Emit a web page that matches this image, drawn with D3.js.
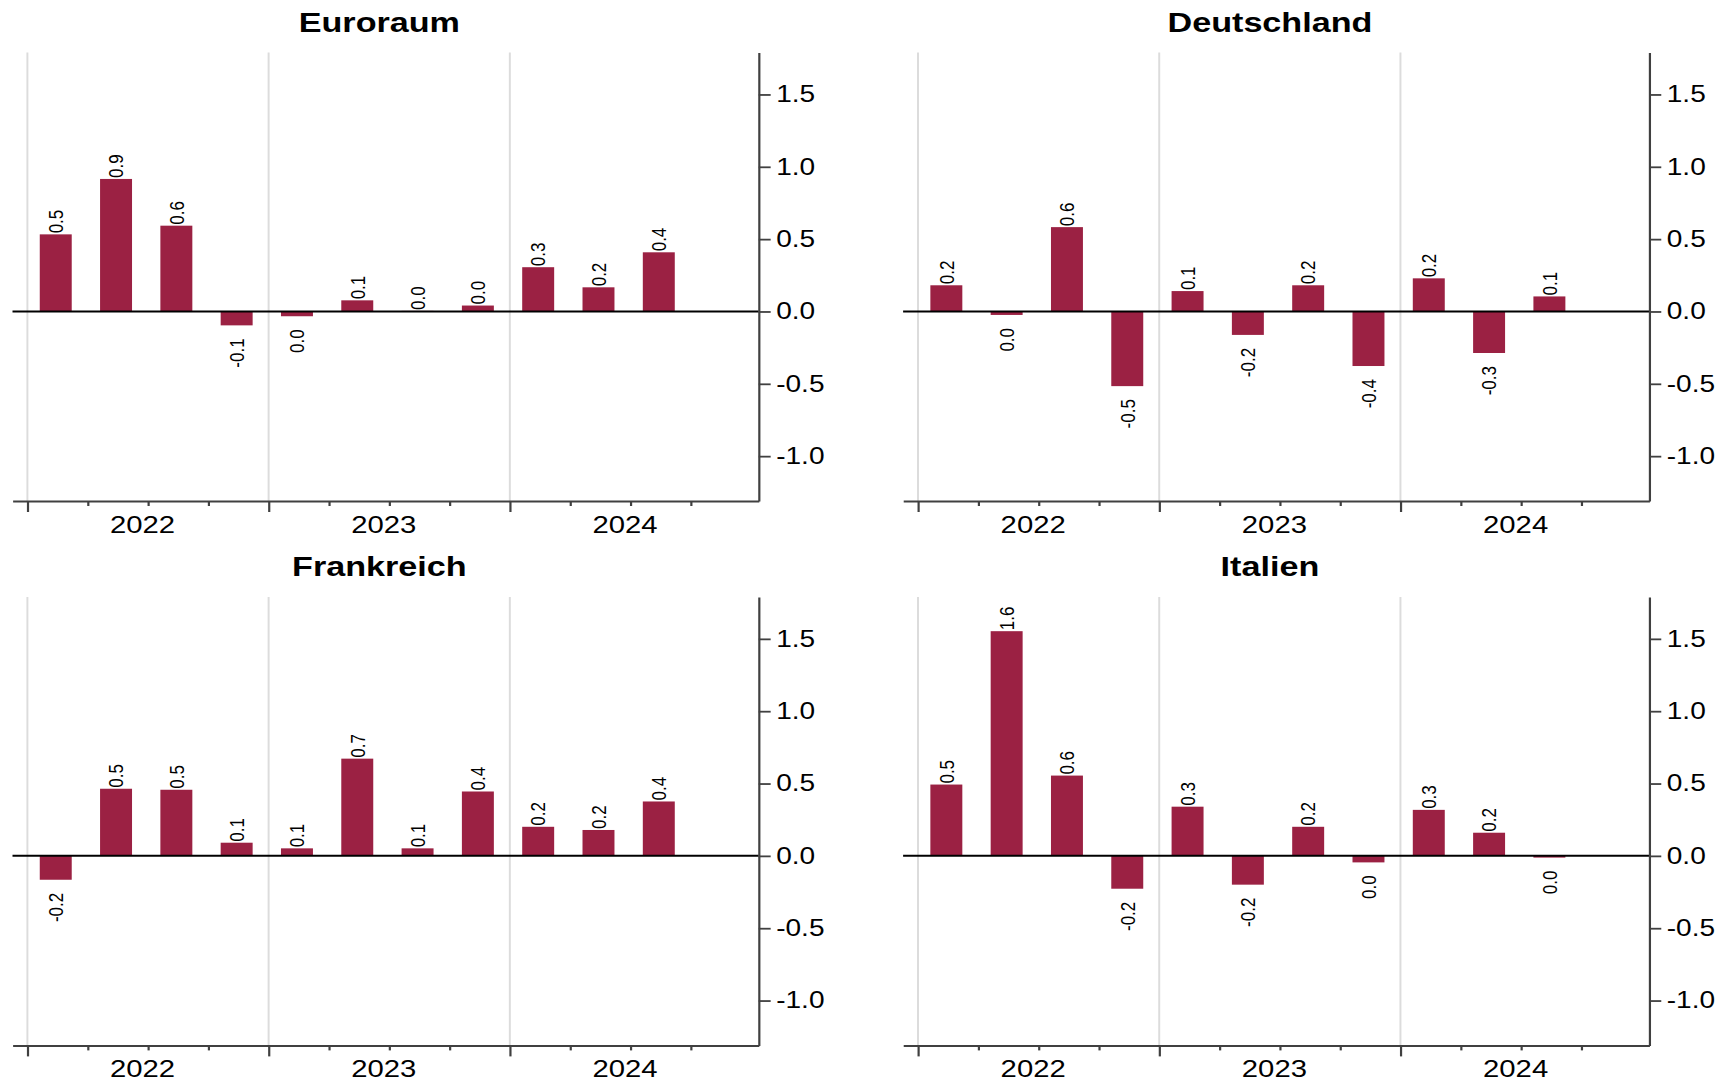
<!DOCTYPE html>
<html>
<head>
<meta charset="utf-8">
<script src="https://cdn.jsdelivr.net/npm/d3@7"></script>
<style>
  html, body { margin: 0; padding: 0; background: #fff; }
  svg { display: block; }
  text { font-family: "Liberation Sans", Arial, Helvetica, sans-serif; fill: #000; }
</style>
</head>
<body>
<div id="chart"></div>
<script>
// ---- data (quarter-on-quarter change, %) ----
const quarters = ["2022Q1","2022Q2","2022Q3","2022Q4","2023Q1","2023Q2","2023Q3","2023Q4","2024Q1","2024Q2","2024Q3"];
const years = ["2022", "2023", "2024"];
const yTicks = [-1.0, -0.5, 0.0, 0.5, 1.0, 1.5];
const titles = ["Euroraum", "Deutschland", "Frankreich", "Italien"];
const euroraum    = [0.533, 0.916, 0.593, -0.096, -0.033, 0.077, 0.004, 0.041, 0.306, 0.167, 0.409];
const deutschland = [0.181, -0.024, 0.583, -0.516, 0.141, -0.162, 0.181, -0.377, 0.229, -0.287, 0.104];
const frankreich  = [-0.165, 0.464, 0.457, 0.091, 0.052, 0.672, 0.052, 0.445, 0.201, 0.179, 0.376];
const italien     = [0.493, 1.553, 0.555, -0.227, 0.340, -0.199, 0.201, -0.045, 0.318, 0.160, -0.012];
const seriesList = [euroraum, deutschland, frankreich, italien];

// ---- layout ----
const W = 1731, H = 1081, K = 1.22;   // the original is stretched horizontally
const VW = W / K;
const barColor = "#9b2143";
const fmt = v => { const r = Math.round(v * 10) / 10; return (r === 0 ? 0 : r).toFixed(1); };

const svg = d3.select("#chart").append("svg")
  .attr("width", W).attr("height", H)
  .attr("viewBox", `0 0 ${VW} ${H}`)
  .attr("preserveAspectRatio", "none");

const offsets = [[0, 0], [730, 0], [0, 544.4], [730, 544.4]];
const P = { left: 10.25, right: 621.9, top: 52.5, bottom: 501 };

seriesList.forEach((vals, pi) => {
  const [ox, oy] = offsets[pi];
  const g = svg.append("g").attr("transform", `translate(${ox},${oy})`);

  const x = d3.scaleLinear().domain([-0.247, 12.127]).range([P.left, P.right]);
  const y = d3.scaleLinear().domain([-1.31, 1.79]).range([P.bottom, P.top]);

  // title
  g.append("text")
    .attr("x", P.right / 2).attr("y", 31.8)
    .attr("text-anchor", "middle")
    .attr("font-size", 28).attr("font-weight", "bold")
    .text(titles[pi]);

  // year gridlines
  g.append("g").selectAll("line").data(years.map((d, i) => i * 4)).join("line")
    .attr("x1", d => x(d)).attr("x2", d => x(d))
    .attr("y1", P.top).attr("y2", P.bottom)
    .attr("stroke", "#dcdcdc").attr("stroke-width", 1.6);

  // bars
  const bw = 26.2;
  g.append("g").selectAll("rect").data(vals).join("rect")
    .attr("x", (d, i) => x(i + 0.47) - bw / 2)
    .attr("width", bw)
    .attr("y", d => y(Math.max(0, d)))
    .attr("height", d => Math.abs(y(d) - y(0)))
    .attr("fill", barColor);

  // zero line
  g.append("line")
    .attr("x1", P.left).attr("x2", P.right)
    .attr("y1", y(0)).attr("y2", y(0))
    .attr("stroke", "#000").attr("stroke-width", 2);

  // value labels (rotated)
  g.append("g").selectAll("text").data(vals).join("text")
    .attr("transform", (d, i) => {
      const cx = x(i + 0.47);
      const cy = d >= 0 ? y(d) - 1 : y(d) + 13;
      return `translate(${cx},${cy}) rotate(-90)`;
    })
    .attr("dy", "0.35em")
    .attr("text-anchor", d => d >= 0 ? "start" : "end")
    .attr("font-size", 17)
    .text(d => fmt(d));

  // x axis
  const xAxis = g.append("g").attr("transform", `translate(0,${P.bottom})`)
    .call(d3.axisBottom(x).tickValues(d3.range(12)).tickFormat("").tickSizeOuter(0));
  xAxis.select(".domain").attr("stroke", "#404040").attr("stroke-width", 2);
  xAxis.selectAll(".tick line")
    .attr("stroke", "#404040").attr("stroke-width", 1.8)
    .attr("y2", d => d % 4 === 0 ? 11 : 5);

  // year labels
  g.append("g").selectAll("text").data(years).join("text")
    .attr("x", (d, i) => x(i * 4 + 1.91))
    .attr("y", P.bottom + 32)
    .attr("text-anchor", "middle")
    .attr("font-size", 24)
    .text(d => d);

  // y axis (right)
  const yAxis = g.append("g").attr("transform", `translate(${P.right},0)`)
    .call(d3.axisRight(y).tickValues(yTicks).tickFormat(d => d.toFixed(1)).tickSize(9.8).tickPadding(4.5).tickSizeOuter(0));
  yAxis.select(".domain").attr("stroke", "#404040").attr("stroke-width", 1.8);
  yAxis.selectAll(".tick line").attr("stroke", "#404040").attr("stroke-width", 1.8);
  yAxis.selectAll(".tick text")
    .attr("font-size", 23)
    .attr("font-family", "'Liberation Sans', Arial, sans-serif")
    .attr("fill", "#000");
});
</script>
</body>
</html>
